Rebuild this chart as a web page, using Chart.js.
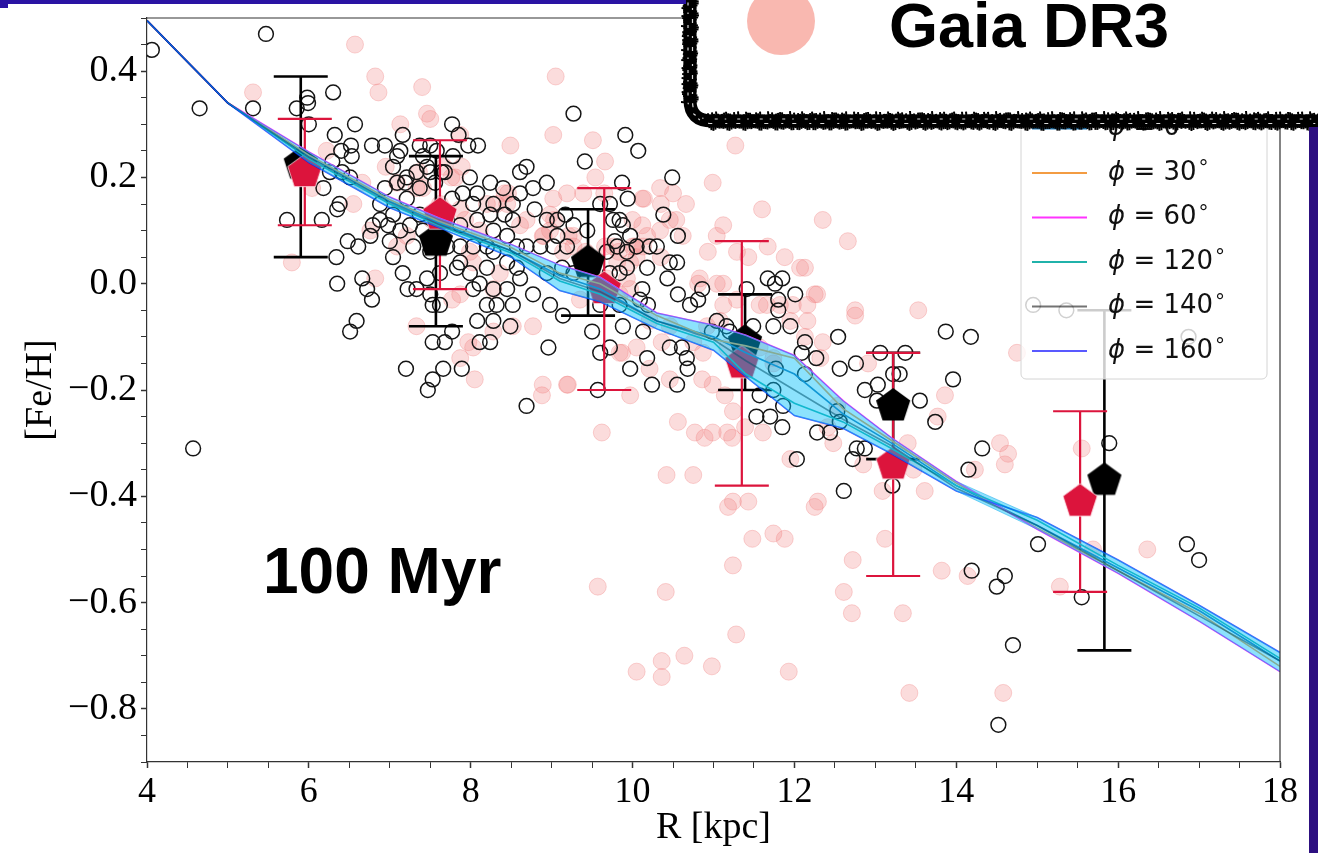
<!DOCTYPE html>
<html>
<head>
<meta charset="utf-8">
<title>[Fe/H] radial gradient, 100 Myr</title>
<script src="https://cdn.jsdelivr.net/npm/chart.js@4.4.1/dist/chart.umd.min.js"></script>
<style>
  html, body { margin: 0; padding: 0; background: #fff; }
  canvas { display: block; }
</style>
</head>
<body>
<canvas id="gradientChart" width="1318" height="853"></canvas>
<script>
// Gaia DR3 stars: [R (kpc), [Fe/H]]
const gaiaStars = [
  [6.57,0.45],[6.82,0.39],[6.86,0.36],[7.40,0.37],[9.05,0.39],[5.31,0.36],[7.46,0.32],[7.50,0.31],
  [7.13,0.30],[9.02,0.28],[8.49,0.26],[9.51,0.27],[9.66,0.23],[9.54,0.20],[7.87,0.28],[7.89,0.22],
  [7.81,0.20],[6.22,0.25],[6.04,0.18],[6.55,0.15],[5.79,0.04],[6.82,0.01],[6.76,0.10],[6.66,0.19],
  [7.33,0.18],[7.41,0.18],[7.62,0.15],[7.64,0.14],[7.87,0.14],[7.93,0.12],[8.42,0.17],[8.45,0.15],
  [9.19,0.17],[9.02,0.16],[8.98,0.13],[9.27,0.09],[8.89,0.09],[8.98,0.10],[9.14,0.06],[9.27,0.07],
  [9.66,0.07],[9.76,0.07],[9.81,0.04],[9.97,0.04],[9.60,0.00],[9.68,0.01],[9.39,0.03],[9.35,-0.03],
  [9.84,-0.02],[9.97,-0.01],[9.87,-0.13],[8.89,-0.19],[8.88,-0.21],[9.19,-0.19],[8.77,-0.08],[8.52,-0.08],
  [8.28,-0.09],[8.03,-0.12],[8.05,-0.18],[7.87,-0.14],[7.97,-0.11],[7.77,-0.03],[7.87,-0.02],[7.33,-0.08],
  [7.09,0.07],[7.21,0.09],[7.99,0.06],[8.03,0.04],[8.28,-0.01],[8.36,0.02],[8.61,0.11],[8.69,0.12],
  [8.11,0.10],[8.20,0.15],[7.52,0.12],[10.99,0.19],[11.60,0.14],[12.35,0.12],[12.66,0.08],[10.34,0.18],
  [10.50,0.17],[10.12,0.16],[10.12,0.11],[10.34,0.10],[10.46,0.12],[10.03,0.07],[10.13,0.07],[10.93,0.06],
  [11.12,0.11],[11.04,0.09],[11.43,0.05],[11.67,0.07],[12.07,0.03],[12.13,0.03],[12.25,-0.02],[12.28,-0.02],
  [12.75,-0.05],[12.75,-0.06],[13.53,-0.05],[10.81,0.00],[11.12,0.00],[11.12,-0.04],[11.29,-0.03],[11.57,-0.04],
  [11.66,-0.04],[11.98,-0.04],[12.16,-0.04],[11.95,-0.07],[12.13,-0.10],[12.35,-0.11],[11.74,-0.15],[12.16,-0.07],
  [13.86,-0.21],[13.77,-0.25],[14.54,-0.30],[14.64,-0.32],[14.60,-0.34],[14.23,-0.35],[12.48,-0.30],[12.41,-0.27],
  [12.53,-0.23],[11.95,-0.33],[13.09,-0.39],[13.61,-0.39],[13.47,-0.35],[12.29,-0.41],[12.25,-0.42],[11.74,-0.47],
  [11.88,-0.48],[11.48,-0.48],[11.24,-0.41],[11.43,-0.41],[11.18,-0.42],[10.56,-0.26],[10.77,-0.28],[10.89,-0.29],
  [10.99,-0.28],[11.17,-0.28],[11.23,-0.29],[11.39,-0.27],[11.61,-0.28],[10.42,-0.36],[10.75,-0.36],[9.62,-0.28],
  [9.20,-0.19],[9.97,-0.21],[10.21,-0.16],[10.46,-0.18],[9.84,-0.13],[10.05,-0.12],[10.86,-0.18],[10.99,-0.19],
  [11.14,-0.21],[11.24,-0.24],[10.36,-0.11],[10.75,-0.11],[10.87,-0.13],[10.21,-0.07],[10.46,-0.08],
  [11.24,-0.53],[9.57,-0.57],[10.41,-0.58],[11.28,-0.66],[10.64,-0.70],[10.36,-0.71],[10.36,-0.74],[10.05,-0.73],
  [10.98,-0.72],[11.93,-0.73],[12.72,-0.52],[12.61,-0.58],[12.71,-0.62],[13.12,-0.48],[13.34,-0.62],[13.42,-0.77],
  [13.82,-0.54],[13.40,-0.30],[12.85,-0.34],[14.75,-0.13],[12.91,-0.15],[15.55,-0.31],[15.69,-0.50],[15.28,-0.57],
  [16.36,-0.50],[14.14,-0.55],[14.58,-0.77],[11.29,0.06],[11.88,0.05],[9.93,0.01],[10.05,0.05],[10.83,0.01],
  [11.04,0.00],[11.82,-0.04],[10.92,-0.08],[11.08,-0.07],[11.17,-0.12],[11.57,-0.12],[11.74,-0.14],[12.32,-0.14],
  [6.95,0.22],[7.09,0.19],[7.36,0.21],[7.67,0.22],[7.76,0.20],[8.46,0.17],[8.32,0.15],[9.03,0.12],
  [9.39,0.17],[9.65,0.17],[10.00,0.12],[10.14,0.16],[10.35,0.15],[10.54,0.12],[10.18,0.09],[10.00,0.07],
  [10.35,0.05],[10.62,0.09],[9.83,0.06],[9.42,0.06],[9.21,0.09],[8.90,0.09],[10.66,0.15],[11.27,0.26]
];

// Cepheid sample: [R (kpc), [Fe/H]]
const sampleStars = [
  [4.06,0.44],[5.47,0.47],[4.65,0.33],[5.31,0.33],[5.85,0.33],[5.98,0.35],[5.99,0.34],[6.30,0.36],
  [6.00,0.30],[6.57,0.30],[6.32,0.28],[6.29,0.23],[6.40,0.25],[6.52,0.26],[6.53,0.24],[6.78,0.26],
  [6.26,0.21],[6.41,0.21],[6.51,0.20],[6.18,0.18],[6.38,0.15],[6.35,0.14],[5.73,0.12],[6.16,0.12],
  [6.48,0.08],[6.61,0.07],[6.34,0.05],[6.35,0.00],[6.66,0.01],[6.72,-0.01],[6.78,-0.03],[6.59,-0.07],
  [6.51,-0.09],[6.88,0.15],[6.94,0.18],[7.09,0.24],[7.16,0.28],[7.13,0.25],[7.19,0.19],[7.09,0.19],
  [7.21,0.16],[7.04,0.13],[6.98,0.11],[6.79,0.11],[6.88,0.12],[6.76,0.09],[7.00,0.08],[7.13,0.10],
  [7.25,0.11],[7.04,0.05],[7.16,0.02],[7.22,-0.01],[7.33,-0.01],[7.50,-0.02],[7.53,-0.04],[7.62,-0.04],
  [7.53,-0.11],[7.68,-0.11],[7.77,-0.09],[7.66,-0.16],[7.53,-0.18],[7.47,-0.20],[7.20,-0.16],[7.89,-0.16],
  [7.77,0.30],[7.85,0.28],[7.97,0.26],[8.09,0.26],[7.78,0.24],[7.37,0.26],[7.50,0.26],[7.58,0.25],
  [7.46,0.22],[7.64,0.21],[7.68,0.21],[7.33,0.21],[7.37,0.18],[7.56,0.19],[7.77,0.16],[7.90,0.17],
  [8.03,0.15],[8.24,0.19],[8.08,0.12],[8.24,0.13],[8.42,0.13],[8.52,0.15],[8.61,0.21],[8.69,0.22],
  [8.94,0.19],[8.79,0.14],[8.94,0.12],[9.07,0.12],[9.17,0.13],[9.27,0.32],[9.41,0.23],[9.91,0.28],
  [10.07,0.25],[9.87,0.19],[9.94,0.16],[9.60,0.15],[9.76,0.12],[9.88,0.11],[9.97,0.09],[9.81,0.07],
  [9.68,0.06],[9.93,0.06],[10.05,0.07],[9.72,0.02],[9.84,0.02],[9.44,0.10],[9.27,0.11],[9.07,0.09],
  [9.19,0.07],[9.02,0.07],[8.86,0.07],[8.69,0.07],[8.57,0.07],[8.45,0.09],[8.28,0.10],[8.20,0.07],
  [8.28,0.06],[8.45,0.04],[8.57,0.03],[8.20,0.03],[8.03,0.07],[7.87,0.07],[7.87,0.04],[7.99,0.02],
  [8.03,-0.01],[8.11,0.00],[8.28,-0.01],[8.45,-0.01],[8.61,0.01],[8.32,-0.04],[8.52,-0.04],[8.20,-0.04],
  [8.08,-0.07],[8.28,-0.07],[8.49,-0.08],[8.11,-0.11],[8.24,-0.11],[8.96,-0.12],[9.50,-0.09],[9.60,-0.13],
  [9.72,-0.12],[9.88,-0.08],[9.57,-0.20],[9.97,-0.16],[8.69,-0.23],[8.98,-0.04],[9.14,-0.06],[8.77,-0.02],
  [8.94,0.02],[9.13,0.03],[9.27,0.02],[9.60,-0.04],[9.84,-0.04],
  [10.49,0.20],[9.72,0.15],[10.38,0.13],[9.84,0.12],[9.78,0.08],[10.21,0.07],[10.30,0.07],[10.56,0.09],
  [10.46,0.04],[10.55,0.04],[10.18,0.03],[10.43,0.01],[10.12,-0.01],[9.93,0.03],[10.56,-0.02],[10.86,-0.01],
  [10.71,-0.04],[10.81,-0.03],[10.19,-0.04],[11.04,-0.07],[11.16,-0.08],[11.41,-0.01],[11.67,0.01],[11.85,0.01],
  [11.76,0.00],[12.01,-0.02],[11.80,-0.03],[11.80,-0.05],[11.74,-0.08],[11.95,-0.08],[11.49,-0.08],[12.54,-0.10],
  [12.13,-0.11],[12.09,-0.13],[12.27,-0.14],[11.77,-0.16],[12.13,-0.17],[12.56,-0.16],[12.76,-0.15],[13.87,-0.09],
  [14.18,-0.10],[13.96,-0.18],[13.06,-0.13],[13.37,-0.13],[13.22,-0.17],[13.30,-0.17],[13.03,-0.19],[12.87,-0.20],
  [13.02,-0.22],[13.55,-0.22],[13.74,-0.26],[11.53,-0.25],[11.70,-0.25],[11.85,-0.27],[12.28,-0.28],[12.44,-0.28],
  [12.53,-0.24],[12.56,-0.26],[12.77,-0.31],[12.87,-0.31],[12.72,-0.33],[12.03,-0.33],[12.61,-0.39],[13.21,-0.38],
  [14.32,-0.31],[14.15,-0.35],[15.01,-0.49],[11.57,-0.21],
  [15.89,-0.30],[16.85,-0.49],[17.00,-0.52],[14.19,-0.54],[14.60,-0.55],[14.50,-0.57],[15.55,-0.59],[14.70,-0.68],
  [14.52,-0.83],[14.95,-0.04],[15.36,-0.05],[16.87,-0.10],[4.57,-0.31],
  [10.24,-0.19],[10.55,-0.19],[11.74,-0.20],[11.86,-0.23],[10.18,-0.14],[10.67,-0.14],[10.68,-0.16],[10.61,-0.12],
  [10.13,-0.09],[10.46,-0.12],[10.09,-0.03],[11.20,-0.09],[10.98,-0.09],
  [6.94,0.26],[7.04,0.22],[7.21,0.20],[7.41,0.24],[7.50,0.21],[7.99,0.20],[8.08,0.17],[8.28,0.15],
  [8.40,0.18],[8.61,0.17],[8.77,0.18],[8.52,0.12],[7.87,0.11],[7.71,0.12],[7.37,0.13],[7.41,0.10],
  [7.29,0.07],[7.50,0.06],[7.71,0.07],[7.83,0.03],[7.62,0.02],[7.46,0.01]
];

// Binned medians with spread: Gaia DR3 (red) and sample (black)
const gaiaBinR  = [5.95, 7.62, 9.65, 11.35, 13.22, 15.53];
const gaiaBinFe = [0.21, 0.13, -0.01, -0.15, -0.34, -0.41];
const gaiaBinHi = [0.31, 0.27, 0.18, 0.08, -0.13, -0.24];
const gaiaBinLo = [0.11, -0.01, -0.20, -0.38, -0.55, -0.58];

const sampleBinR  = [5.9, 7.57, 9.45, 11.39, 13.22, 15.83];
const sampleBinFe = [0.225, 0.08, 0.04, -0.11, -0.23, -0.37];
const sampleBinHi = [0.39, 0.24, 0.14, -0.02, -0.13, -0.05];
const sampleBinLo = [0.05, -0.08, -0.06, -0.20, -0.33, -0.69];

// Model gradients for each azimuth
const modelR = [4, 5, 6, 7, 7.6, 8.5, 9.1, 9.6, 10.3, 11.0, 11.4, 12.0, 12.6, 13.2, 14.0, 15.0, 16.0, 17.0, 18.0];
const phi0Fe   = [0.495, 0.34, 0.240, 0.155, 0.115, 0.062, 0.015, -0.010, -0.070, -0.100, -0.130, -0.170, -0.245, -0.300, -0.380, -0.455, -0.535, -0.615, -0.710];
const phi30Fe  = [0.495, 0.34, 0.242, 0.158, 0.118, 0.068, 0.020, 0.000, -0.060, -0.105, -0.117, -0.140, -0.235, -0.295, -0.375, -0.460, -0.540, -0.620, -0.720];
const phi60Fe  = [0.495, 0.34, 0.248, 0.163, 0.124, 0.074, 0.035, 0.012, -0.055, -0.078, -0.097, -0.135, -0.220, -0.290, -0.372, -0.462, -0.545, -0.635, -0.730];
const phi120Fe = [0.495, 0.34, 0.235, 0.150, 0.110, 0.058, 0.005, -0.020, -0.075, -0.110, -0.170, -0.225, -0.260, -0.310, -0.380, -0.445, -0.530, -0.610, -0.705];
const phi140Fe = [0.495, 0.34, 0.238, 0.153, 0.112, 0.062, 0.010, -0.015, -0.070, -0.105, -0.145, -0.200, -0.255, -0.305, -0.385, -0.455, -0.540, -0.625, -0.710];
const phi160Fe = [0.495, 0.34, 0.228, 0.143, 0.106, 0.050, -0.013, -0.034, -0.085, -0.125, -0.175, -0.248, -0.272, -0.320, -0.390, -0.440, -0.520, -0.605, -0.694];

const phiAngles = [0, 30, 60, 120, 140, 160];
const phiColors = ['#1f77b4', '#f39c42', '#ff33ff', '#20b2aa', 'rgba(0,0,0,0.55)', 'rgba(0,0,255,0.65)'];
const phiSeries = [phi0Fe, phi30Fe, phi60Fe, phi120Fe, phi140Fe, phi160Fe];

const rTickLabels = [4, 6, 8, 10, 12, 14, 16, 18];
const feTickLabels = [-0.8, -0.6, -0.4, -0.2, 0.0, 0.2, 0.4];

const toPoints = pairs => pairs.map(p => ({x: p[0], y: p[1]}));
const zipPoints = (xs, ys) => xs.map((x, i) => ({x: x, y: ys[i]}));

// envelope of all azimuths
const bandTop = modelR.map((r, i) => ({x: r, y: Math.max(...phiSeries.map(s => s[i]))}));
const bandBottom = modelR.map((r, i) => ({x: r, y: Math.min(...phiSeries.map(s => s[i]))}));

function pentagon(fill, edge) {
    const c = document.createElement('canvas');
    c.width = 40;
    c.height = 40;
    const g = c.getContext('2d');
    g.beginPath();
    for (let k = 0; k < 5; k++) {
        const a = -Math.PI / 2 + k * 2 * Math.PI / 5;
        const x = 20 + 18 * Math.cos(a);
        const y = 20 + 18 * Math.sin(a);
        if (k === 0) g.moveTo(x, y); else g.lineTo(x, y);
    }
    g.closePath();
    g.fillStyle = fill;
    g.fill();
    if (edge) {
        g.strokeStyle = edge;
        g.lineWidth = 1;
        g.stroke();
    }
    return c;
}

const datasets = [];

datasets.push({
    label: 'Gaia DR3',
    data: toPoints(gaiaStars),
    pointRadius: 8.5,
    pointBackgroundColor: 'rgba(240,128,128,0.28)',
    pointBorderColor: 'rgba(240,128,128,0.34)',
    pointBorderWidth: 1,
    order: 9
});
datasets.push({
    label: 'sample',
    data: toPoints(sampleStars),
    pointRadius: 7.4,
    pointBackgroundColor: 'rgba(0,0,0,0)',
    pointBorderColor: '#151515',
    pointBorderWidth: 1.5,
    order: 8
});
datasets.push({
    label: 'sample bins',
    data: zipPoints(sampleBinR, sampleBinFe),
    pointStyle: pentagon('#000000', null),
    pointRadius: 17,
    order: 5
});
datasets.push({
    label: 'Gaia bins',
    data: zipPoints(gaiaBinR, gaiaBinFe),
    pointStyle: pentagon('#dc143c', 'rgba(255,230,235,0.8)'),
    pointRadius: 17,
    order: 4
});
phiSeries.forEach((s, i) => {
    datasets.push({
        type: 'line',
        label: 'phi ' + phiAngles[i],
        data: zipPoints(modelR, s),
        borderColor: phiColors[i],
        borderWidth: 1.6,
        pointRadius: 0,
        fill: false,
        tension: 0,
        order: 3 - i * 0.1
    });
});
datasets.push({
    type: 'line',
    label: 'envelope top',
    data: bandTop,
    borderColor: 'rgba(0,160,230,0.45)',
    borderWidth: 1,
    backgroundColor: 'rgba(0,190,250,0.45)',
    pointRadius: 0,
    fill: '+1',
    tension: 0,
    order: 1
});
datasets.push({
    type: 'line',
    label: 'envelope bottom',
    data: bandBottom,
    borderColor: 'rgba(0,160,230,0.45)',
    borderWidth: 1,
    pointRadius: 0,
    fill: false,
    tension: 0,
    order: 1
});

function drawErrorBars(ctx, chart, R, lo, hi, color, width) {
    const xs = chart.scales.x, ys = chart.scales.y;
    const cap = 27;
    ctx.save();
    ctx.strokeStyle = color;
    ctx.lineWidth = width;
    R.forEach((r, i) => {
        const x = xs.getPixelForValue(r);
        const y1 = ys.getPixelForValue(hi[i]);
        const y2 = ys.getPixelForValue(lo[i]);
        ctx.beginPath();
        ctx.moveTo(x, y1); ctx.lineTo(x, y2);
        ctx.moveTo(x - cap, y1); ctx.lineTo(x + cap, y1);
        ctx.moveTo(x - cap, y2); ctx.lineTo(x + cap, y2);
        ctx.stroke();
    });
    ctx.restore();
}

function drawLegend(ctx) {
    const left = 1021, right = 1267, top = 100, bottom = 379, r = 5;
    ctx.save();
    ctx.beginPath();
    ctx.moveTo(left + r, top);
    ctx.arcTo(right, top, right, bottom, r);
    ctx.arcTo(right, bottom, left, bottom, r);
    ctx.arcTo(left, bottom, left, top, r);
    ctx.arcTo(left, top, right, top, r);
    ctx.closePath();
    ctx.fillStyle = 'rgba(255,255,255,0.8)';
    ctx.fill();
    ctx.strokeStyle = '#d4d4d4';
    ctx.lineWidth = 1;
    ctx.stroke();

    ctx.textBaseline = 'middle';
    ctx.fillStyle = '#111';
    phiAngles.forEach((a, i) => {
        const y = 128.5 + i * 44.5;
        ctx.strokeStyle = phiColors[i];
        ctx.lineWidth = 2;
        ctx.beginPath();
        ctx.moveTo(1032, y);
        ctx.lineTo(1087, y);
        ctx.stroke();
        let x = 1108;
        ctx.font = 'italic 26px "DejaVu Sans"';
        ctx.fillText('\u03D5', x, y);
        x += ctx.measureText('\u03D5').width;
        ctx.font = '26px "DejaVu Sans"';
        const txt = ' = ' + a;
        ctx.fillText(txt, x, y);
        x += ctx.measureText(txt).width + 2;
        ctx.font = '20px "DejaVu Sans"';
        ctx.fillText('\u00B0', x, y - 4);
    });
    ctx.restore();
}

function boxPath(ctx, d) {
    ctx.beginPath();
    ctx.moveTo(690 + d, -20);
    ctx.lineTo(690 + d, 100);
    ctx.quadraticCurveTo(690 + d, 121 + d, 712, 121 + d);
    ctx.lineTo(1330, 121 + d);
}

function drawGaiaBox(ctx) {
    ctx.save();
    ctx.fillStyle = '#fff';
    ctx.beginPath();
    ctx.moveTo(690, -20);
    ctx.lineTo(690, 100);
    ctx.quadraticCurveTo(690, 121, 712, 121);
    ctx.lineTo(1330, 121);
    ctx.lineTo(1330, -20);
    ctx.closePath();
    ctx.fill();

    // marker-pen outline with frayed edges
    ctx.strokeStyle = '#000';
    ctx.lineJoin = 'round';
    ctx.lineWidth = 13;
    boxPath(ctx, 0);
    ctx.stroke();
    ctx.lineWidth = 2;
    for (let y = -4; y < 104; y += 2) {
        const a = 6 + 3 * Math.abs(Math.sin(y * 0.91) * Math.cos(y * 0.37));
        const b = 6 + 3 * Math.abs(Math.sin(y * 1.31 + 2) * Math.cos(y * 0.23));
        ctx.beginPath();
        ctx.moveTo(690 - a, y);
        ctx.lineTo(690 + b, y + 1.5);
        ctx.stroke();
    }
    for (let x = 708; x < 1320; x += 2) {
        const a = 6 + 4 * Math.abs(Math.sin(x * 0.73) * Math.cos(x * 0.29));
        const b = 7 + 3 * Math.abs(Math.sin(x * 1.17 + 1) * Math.cos(x * 0.19));
        ctx.beginPath();
        ctx.moveTo(x, 121 - a);
        ctx.lineTo(x + 1.5, 121 + b);
        ctx.stroke();
    }
    ctx.strokeStyle = 'rgba(255,255,255,0.85)';
    ctx.lineWidth = 1.2;
    ctx.setLineDash([3, 7, 1.5, 11]);
    boxPath(ctx, -2);
    ctx.stroke();
    ctx.setLineDash([2, 9, 4, 13]);
    boxPath(ctx, 2.5);
    ctx.stroke();
    ctx.setLineDash([]);

    ctx.fillStyle = '#f9b8b0';
    ctx.beginPath();
    ctx.arc(781, 21, 34, 0, Math.PI * 2);
    ctx.fill();

    ctx.fillStyle = '#000';
    ctx.font = 'bold 63px "Liberation Sans"';
    ctx.textBaseline = 'alphabetic';
    ctx.fillText('Gaia DR3', 889, 47);
    ctx.restore();
}

const overlays = {
    id: 'overlays',
    afterDatasetDraw(chart, args) {
        if (chart.data.datasets[args.index].label !== 'sample') return;
        const ctx = chart.ctx;
        drawErrorBars(ctx, chart, sampleBinR, sampleBinLo, sampleBinHi, '#000', 2.6);
        drawErrorBars(ctx, chart, gaiaBinR, gaiaBinLo, gaiaBinHi, '#dc143c', 2.2);
    },
    afterDraw(chart) {
        const ctx = chart.ctx;
        const a = chart.chartArea;
        ctx.save();
        ctx.strokeStyle = '#333';
        ctx.lineWidth = 1.2;
        ctx.beginPath();
        ctx.moveTo(a.left, a.top);
        ctx.lineTo(a.right, a.top);
        ctx.lineTo(a.right, a.bottom);
        ctx.stroke();

        ctx.fillStyle = '#000';
        ctx.font = 'bold 64px "Liberation Sans"';
        ctx.fillText('100 Myr', 263, 593);
        ctx.restore();

        drawLegend(ctx);
        drawGaiaBox(ctx);

        ctx.save();
        ctx.fillStyle = '#2a13a3';
        ctx.fillRect(0, 0, 686, 4);
        ctx.fillRect(0, 0, 8, 8);
        ctx.fillStyle = '#2d0f80';
        ctx.fillRect(1309, 127, 9, 726);
        ctx.restore();
    }
};

const fmtFe = v => {
    const k = Math.round(v * 100);
    if (!feTickLabels.some(t => Math.round(t * 100) === k)) return '';
    return (k / 100).toFixed(1).replace('-', '\u2212');
};
const fmtR = v => rTickLabels.includes(v) ? String(v) : '';

const ctx = document.getElementById('gradientChart').getContext('2d');
const gradientChart = new Chart(ctx, {
    type: 'scatter',
    data: { datasets: datasets },
    options: {
        responsive: false,
        animation: false,
        devicePixelRatio: 1,
        layout: { padding: { top: 12, right: 38, left: 0, bottom: 0 } },
        plugins: {
            legend: { display: false },
            tooltip: { enabled: false }
        },
        scales: {
            x: {
                type: 'linear',
                min: 4,
                max: 18,
                afterFit: scale => {
                    scale.height = 91;
                    scale.paddingLeft = 0;
                    scale.paddingRight = 0;
                },
                border: { display: true, color: '#333', width: 1.2 },
                grid: {
                    drawOnChartArea: false,
                    drawTicks: true,
                    tickLength: 6,
                    tickColor: '#333',
                    tickWidth: c => (c.tick && fmtR(c.tick.value) ? 1.5 : 1)
                },
                ticks: {
                    stepSize: 0.5,
                    maxTicksLimit: 100,
                    autoSkip: false,
                    maxRotation: 0,
                    padding: 3,
                    color: '#000',
                    font: { family: 'Liberation Serif', size: 36 },
                    callback: fmtR
                },
                title: {
                    display: true,
                    text: 'R [kpc]',
                    color: '#000',
                    font: { family: 'Liberation Serif', size: 38 },
                    padding: { top: 0, bottom: 2 }
                }
            },
            y: {
                type: 'linear',
                min: -0.9,
                max: 0.5,
                afterFit: scale => {
                    scale.width = 147;
                    scale.paddingTop = 0;
                    scale.paddingBottom = 0;
                },
                border: { display: true, color: '#333', width: 1.2 },
                grid: {
                    drawOnChartArea: false,
                    drawTicks: true,
                    tickLength: 6,
                    tickColor: '#333',
                    tickWidth: c => (c.tick && fmtFe(c.tick.value) ? 1.5 : 1)
                },
                ticks: {
                    stepSize: 0.05,
                    maxTicksLimit: 100,
                    autoSkip: false,
                    padding: 4,
                    color: '#000',
                    font: { family: 'Liberation Serif', size: 38 },
                    callback: fmtFe
                },
                title: {
                    display: true,
                    text: '[Fe/H]',
                    color: '#000',
                    font: { family: 'Liberation Serif', size: 38 },
                    padding: { top: 18, bottom: 0 }
                }
            }
        }
    },
    plugins: [overlays]
});
</script>
</body>
</html>
